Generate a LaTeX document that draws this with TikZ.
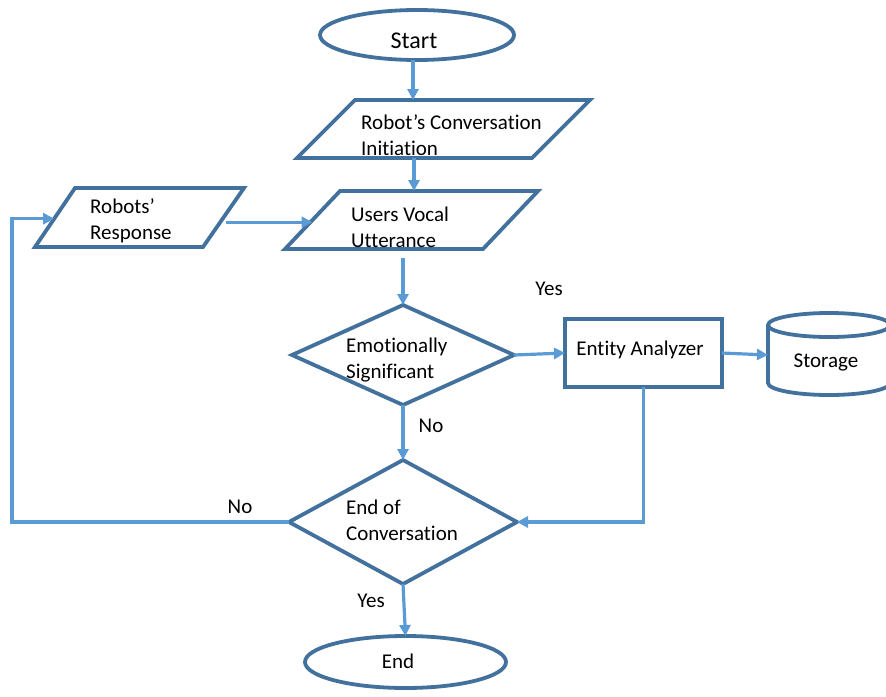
\documentclass[tikz,border=0pt]{standalone}
\usepackage{fontspec}
\setmainfont[Ligatures=NoCommon]{Carlito}
\usetikzlibrary{shapes.geometric,arrows.meta,calc}
\definecolor{edge}{HTML}{41719C}
\definecolor{flow}{HTML}{5B9BD5}
\begin{document}
\begin{tikzpicture}[x=1pt,y=-1pt,
  outline/.style={draw=edge, line width=3.8pt, inner sep=0pt, outer sep=0pt},
  arr/.style={draw=flow, line width=3.2pt, -{Triangle[length=11pt,width=11pt]}},
  txt/.style={inner sep=0pt, font=\fontsize{21}{26}\selectfont, align=left, text=black},
]
\useasboundingbox (0,0) rectangle (886,696);
\clip (0,0) rectangle (886,696);

% terminals, decisions and process box
\node[outline, ellipse, minimum width=194pt, minimum height=50pt] (start) at (417,35) {};
\node[outline, diamond, minimum width=222pt, minimum height=100pt] (emo) at (403,355) {};
\node[outline, rectangle, minimum width=157pt, minimum height=68pt] (ea) at (643.5,353) {};
\node[outline, diamond, minimum width=228pt, minimum height=124pt] (endc) at (403,522) {};
\node[outline, ellipse, minimum width=201pt, minimum height=52pt] (end) at (405.5,662) {};

% input/output parallelograms
\coordinate (init-tl) at (355,100); \coordinate (init-tr) at (590,100);
\coordinate (init-br) at (532,158); \coordinate (init-bl) at (297,158);
\draw[outline] (init-tl) -- (init-tr) -- (init-br) -- (init-bl) -- cycle;

\coordinate (users-tl) at (340,191); \coordinate (users-tr) at (538,191);
\coordinate (users-br) at (483,249); \coordinate (users-bl) at (285,249);
\draw[outline] (users-tl) -- (users-tr) -- (users-br) -- (users-bl) -- cycle;
\coordinate (users-w) at ($(users-tl)!0.5!(users-bl)$);

\coordinate (resp-tl) at (75,188); \coordinate (resp-tr) at (244,188);
\coordinate (resp-br) at (203,247); \coordinate (resp-bl) at (35,247);
\draw[outline] (resp-tl) -- (resp-tr) -- (resp-br) -- (resp-bl) -- cycle;
\coordinate (resp-w) at ($(resp-tl)!0.52!(resp-bl)$);
\coordinate (resp-e) at ($(resp-tr)!0.58!(resp-br)$);

% storage cylinder
\draw[draw=edge, line width=3.8pt] (829,325) ellipse[x radius=61, y radius=12];
\draw[draw=edge, line width=3.8pt] (768,325) -- (768,383)
  arc[start angle=180, end angle=0, x radius=61, y radius=12] -- (890,325);
\coordinate (stor) at (768,355);

% texts
\node[txt] (tstart) at (414,41) {\fontsize{24}{28}\selectfont Start};
\node[txt, anchor=west] (tinit) at (361,135) {Robot’s Conversation\\Initiation};
\node[txt, anchor=west] (tusers) at (351,227) {Users Vocal\\Utterance};
\node[txt, anchor=west] (tresp) at (90,221) {Robots’\\Response};
\node[txt, anchor=west] (temo) at (346,360) {Emotionally\\Significant};
\node[txt] (tea) at (640,350) {Entity Analyzer};
\node[txt] (tstor) at (826,362) {Storage};
\node[txt, anchor=west] (tendc) at (346,520) {End of\\Conversation};
\node[txt] (tend) at (398,661) {End};
\node[txt] (lyes1) at (549,289) {Yes};
\node[txt] (lno1) at (431,426) {No};
\node[txt] (lno2) at (240,507) {No};
\node[txt] (lyes2) at (371,601) {Yes};

% connectors
\coordinate (ax1) at (413,0);
\coordinate (ax2) at (414,0);
\coordinate (lx) at (12,0);
\draw[arr] (start.south -| ax1) -- (init-tl -| ax1);
\draw[arr] (init-bl -| ax2) -- (users-tl -| ax2);
\draw[arr] ($(resp-e)+(6,0)$) -- (resp-e -| users-w);
\draw[arr] (endc.west) -- (endc.west -| lx) -- (resp-w -| lx) -- (resp-w);
\draw[arr] ($(users-bl -| emo.north)+(0,9)$) -- (emo.north);
\draw[arr] (emo.east) -- (ea.west);
\draw[arr] (ea.east) -- (stor);
\draw[arr] (emo.south) -- (endc.north);
\draw[arr] (ea.south) |- (endc.east);
\draw[arr] (endc.south) -- (end.north);
\end{tikzpicture}
\end{document}
